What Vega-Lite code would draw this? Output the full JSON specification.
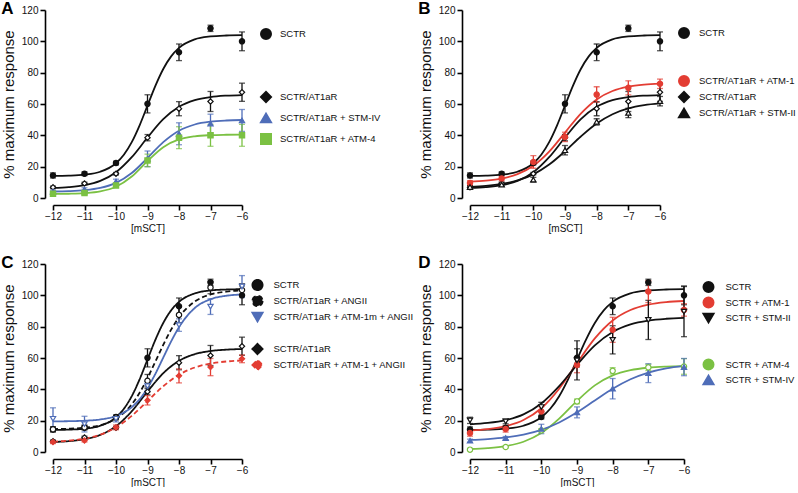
{
"$schema": "https://vega.github.io/schema/vega-lite/v6.json",
"background": "white",
"padding": {"left": 1, "top": 0, "right": 0, "bottom": 0},
"bounds": "flush",
"columns": 2,
"spacing": {"row": 66, "column": 228},
"resolve": {
 "scale": {"color": "independent", "stroke": "independent", "fill": "independent", "shape": "independent", "strokeDash": "independent", "x": "independent", "y": "independent"},
 "legend": {"color": "independent", "stroke": "independent", "fill": "independent", "shape": "independent", "strokeDash": "independent"}
},
"datasets": {
"curves": [
{"p":"ABCD","s":"SCTR","x":-12,"y":14.09},{"p":"ABCD","s":"SCTR","x":-11.5,"y":14.28},{"p":"ABCD","s":"SCTR","x":-11,"y":14.89},{"p":"ABCD","s":"SCTR","x":-10.5,"y":16.76},{"p":"ABCD","s":"SCTR","x":-10,"y":22.18},{"p":"ABCD","s":"SCTR","x":-9.75,"y":27.59},{"p":"ABCD","s":"SCTR","x":-9.5,"y":35.63},{"p":"ABCD","s":"SCTR","x":-9.25,"y":46.4},{"p":"ABCD","s":"SCTR","x":-9,"y":59},{"p":"ABCD","s":"SCTR","x":-8.75,"y":71.6},{"p":"ABCD","s":"SCTR","x":-8.5,"y":82.37},{"p":"ABCD","s":"SCTR","x":-8.25,"y":90.41},{"p":"ABCD","s":"SCTR","x":-8,"y":95.82},{"p":"ABCD","s":"SCTR","x":-7.5,"y":101.24},{"p":"ABCD","s":"SCTR","x":-7,"y":103.11},{"p":"ABCD","s":"SCTR","x":-6.5,"y":103.72},{"p":"ABCD","s":"SCTR","x":-6,"y":103.91},
{"p":"ABC","s":"SCTR/AT1aR","x":-12,"y":6.4},{"p":"ABC","s":"SCTR/AT1aR","x":-11.5,"y":6.94},{"p":"ABC","s":"SCTR/AT1aR","x":-11,"y":8.17},{"p":"ABC","s":"SCTR/AT1aR","x":-10.5,"y":10.91},{"p":"ABC","s":"SCTR/AT1aR","x":-10,"y":16.47},{"p":"ABC","s":"SCTR/AT1aR","x":-9.5,"y":26.03},{"p":"ABC","s":"SCTR/AT1aR","x":-9,"y":38.59},{"p":"ABC","s":"SCTR/AT1aR","x":-8.5,"y":50.29},{"p":"ABC","s":"SCTR/AT1aR","x":-8,"y":58.19},{"p":"ABC","s":"SCTR/AT1aR","x":-7.5,"y":62.44},{"p":"ABC","s":"SCTR/AT1aR","x":-7,"y":64.45},{"p":"ABC","s":"SCTR/AT1aR","x":-6.5,"y":65.33},{"p":"ABC","s":"SCTR/AT1aR","x":-6,"y":65.72},
{"p":"A","s":"SCTR/AT1aR + STM-IV","x":-12,"y":4.16},{"p":"A","s":"SCTR/AT1aR + STM-IV","x":-11.5,"y":4.4},{"p":"A","s":"SCTR/AT1aR + STM-IV","x":-11,"y":4.99},{"p":"A","s":"SCTR/AT1aR + STM-IV","x":-10.5,"y":6.42},{"p":"A","s":"SCTR/AT1aR + STM-IV","x":-10,"y":9.62},{"p":"A","s":"SCTR/AT1aR + STM-IV","x":-9.5,"y":15.92},{"p":"A","s":"SCTR/AT1aR + STM-IV","x":-9,"y":25.52},{"p":"A","s":"SCTR/AT1aR + STM-IV","x":-8.5,"y":35.66},{"p":"A","s":"SCTR/AT1aR + STM-IV","x":-8,"y":42.97},{"p":"A","s":"SCTR/AT1aR + STM-IV","x":-7.5,"y":46.92},{"p":"A","s":"SCTR/AT1aR + STM-IV","x":-7,"y":48.72},{"p":"A","s":"SCTR/AT1aR + STM-IV","x":-6.5,"y":49.48},{"p":"A","s":"SCTR/AT1aR + STM-IV","x":-6,"y":49.79},
{"p":"A","s":"SCTR/AT1aR + ATM-4","x":-12,"y":2.57},{"p":"A","s":"SCTR/AT1aR + ATM-4","x":-11.5,"y":2.7},{"p":"A","s":"SCTR/AT1aR + ATM-4","x":-11,"y":3.09},{"p":"A","s":"SCTR/AT1aR + ATM-4","x":-10.5,"y":4.2},{"p":"A","s":"SCTR/AT1aR + ATM-4","x":-10,"y":7.16},{"p":"A","s":"SCTR/AT1aR + ATM-4","x":-9.5,"y":13.68},{"p":"A","s":"SCTR/AT1aR + ATM-4","x":-9,"y":23.57},{"p":"A","s":"SCTR/AT1aR + ATM-4","x":-8.5,"y":32.44},{"p":"A","s":"SCTR/AT1aR + ATM-4","x":-8,"y":37.36},{"p":"A","s":"SCTR/AT1aR + ATM-4","x":-7.5,"y":39.39},{"p":"A","s":"SCTR/AT1aR + ATM-4","x":-7,"y":40.12},{"p":"A","s":"SCTR/AT1aR + ATM-4","x":-6.5,"y":40.37},{"p":"A","s":"SCTR/AT1aR + ATM-4","x":-6,"y":40.46},
{"p":"B","s":"SCTR/AT1aR + ATM-1","x":-12,"y":10.5},{"p":"B","s":"SCTR/AT1aR + ATM-1","x":-11.5,"y":11.11},{"p":"B","s":"SCTR/AT1aR + ATM-1","x":-11,"y":12.43},{"p":"B","s":"SCTR/AT1aR + ATM-1","x":-10.5,"y":15.19},{"p":"B","s":"SCTR/AT1aR + ATM-1","x":-10,"y":20.56},{"p":"B","s":"SCTR/AT1aR + ATM-1","x":-9.5,"y":29.6},{"p":"B","s":"SCTR/AT1aR + ATM-1","x":-9,"y":41.75},{"p":"B","s":"SCTR/AT1aR + ATM-1","x":-8.5,"y":53.9},{"p":"B","s":"SCTR/AT1aR + ATM-1","x":-8,"y":62.94},{"p":"B","s":"SCTR/AT1aR + ATM-1","x":-7.5,"y":68.31},{"p":"B","s":"SCTR/AT1aR + ATM-1","x":-7,"y":71.07},{"p":"B","s":"SCTR/AT1aR + ATM-1","x":-6.5,"y":72.39},{"p":"B","s":"SCTR/AT1aR + ATM-1","x":-6,"y":73.0},
{"p":"B","s":"SCTR/AT1aR + STM-II","x":-12,"y":7.14},{"p":"B","s":"SCTR/AT1aR + STM-II","x":-11.5,"y":7.75},{"p":"B","s":"SCTR/AT1aR + STM-II","x":-11,"y":8.95},{"p":"B","s":"SCTR/AT1aR + STM-II","x":-10.5,"y":11.18},{"p":"B","s":"SCTR/AT1aR + STM-II","x":-10,"y":15.1},{"p":"B","s":"SCTR/AT1aR + STM-II","x":-9.5,"y":21.35},{"p":"B","s":"SCTR/AT1aR + STM-II","x":-9,"y":29.85},{"p":"B","s":"SCTR/AT1aR + STM-II","x":-8.5,"y":39.26},{"p":"B","s":"SCTR/AT1aR + STM-II","x":-8,"y":47.53},{"p":"B","s":"SCTR/AT1aR + STM-II","x":-7.5,"y":53.49},{"p":"B","s":"SCTR/AT1aR + STM-II","x":-7,"y":57.17},{"p":"B","s":"SCTR/AT1aR + STM-II","x":-6.5,"y":59.24},{"p":"B","s":"SCTR/AT1aR + STM-II","x":-6,"y":60.34},
{"p":"C","s":"SCTR/AT1aR + ANGII","x":-12,"y":14.64},{"p":"C","s":"SCTR/AT1aR + ANGII","x":-11.5,"y":14.88},{"p":"C","s":"SCTR/AT1aR + ANGII","x":-11,"y":15.52},{"p":"C","s":"SCTR/AT1aR + ANGII","x":-10.5,"y":17.15},{"p":"C","s":"SCTR/AT1aR + ANGII","x":-10,"y":21.22},{"p":"C","s":"SCTR/AT1aR + ANGII","x":-9.75,"y":24.96},{"p":"C","s":"SCTR/AT1aR + ANGII","x":-9.5,"y":30.39},{"p":"C","s":"SCTR/AT1aR + ANGII","x":-9.25,"y":37.79},{"p":"C","s":"SCTR/AT1aR + ANGII","x":-9,"y":47.1},{"p":"C","s":"SCTR/AT1aR + ANGII","x":-8.75,"y":57.69},{"p":"C","s":"SCTR/AT1aR + ANGII","x":-8.5,"y":68.43},{"p":"C","s":"SCTR/AT1aR + ANGII","x":-8.25,"y":78.13},{"p":"C","s":"SCTR/AT1aR + ANGII","x":-8,"y":86.03},{"p":"C","s":"SCTR/AT1aR + ANGII","x":-7.5,"y":96.02},{"p":"C","s":"SCTR/AT1aR + ANGII","x":-7,"y":100.53},{"p":"C","s":"SCTR/AT1aR + ANGII","x":-6.5,"y":102.36},{"p":"C","s":"SCTR/AT1aR + ANGII","x":-6,"y":103.07},
{"p":"C","s":"SCTR/AT1aR + ATM-1m + ANGII","x":-12,"y":19.56},{"p":"C","s":"SCTR/AT1aR + ATM-1m + ANGII","x":-11.5,"y":19.66},{"p":"C","s":"SCTR/AT1aR + ATM-1m + ANGII","x":-11,"y":19.96},{"p":"C","s":"SCTR/AT1aR + ATM-1m + ANGII","x":-10.5,"y":20.77},{"p":"C","s":"SCTR/AT1aR + ATM-1m + ANGII","x":-10,"y":22.98},{"p":"C","s":"SCTR/AT1aR + ATM-1m + ANGII","x":-9.75,"y":25.18},{"p":"C","s":"SCTR/AT1aR + ATM-1m + ANGII","x":-9.5,"y":28.61},{"p":"C","s":"SCTR/AT1aR + ATM-1m + ANGII","x":-9.25,"y":33.72},{"p":"C","s":"SCTR/AT1aR + ATM-1m + ANGII","x":-9,"y":40.85},{"p":"C","s":"SCTR/AT1aR + ATM-1m + ANGII","x":-8.75,"y":49.92},{"p":"C","s":"SCTR/AT1aR + ATM-1m + ANGII","x":-8.5,"y":60.25},{"p":"C","s":"SCTR/AT1aR + ATM-1m + ANGII","x":-8.25,"y":70.58},{"p":"C","s":"SCTR/AT1aR + ATM-1m + ANGII","x":-8,"y":79.66},{"p":"C","s":"SCTR/AT1aR + ATM-1m + ANGII","x":-7.5,"y":91.89},{"p":"C","s":"SCTR/AT1aR + ATM-1m + ANGII","x":-7,"y":97.51},{"p":"C","s":"SCTR/AT1aR + ATM-1m + ANGII","x":-6.5,"y":99.73},{"p":"C","s":"SCTR/AT1aR + ATM-1m + ANGII","x":-6,"y":100.54},
{"p":"C","s":"SCTR/AT1aR + ATM-1 + ANGII","x":-12,"y":6.59},{"p":"C","s":"SCTR/AT1aR + ATM-1 + ANGII","x":-11.5,"y":7.23},{"p":"C","s":"SCTR/AT1aR + ATM-1 + ANGII","x":-11,"y":8.53},{"p":"C","s":"SCTR/AT1aR + ATM-1 + ANGII","x":-10.5,"y":11.08},{"p":"C","s":"SCTR/AT1aR + ATM-1 + ANGII","x":-10,"y":15.7},{"p":"C","s":"SCTR/AT1aR + ATM-1 + ANGII","x":-9.5,"y":23.03},{"p":"C","s":"SCTR/AT1aR + ATM-1 + ANGII","x":-9,"y":32.5},{"p":"C","s":"SCTR/AT1aR + ATM-1 + ANGII","x":-8.5,"y":41.98},{"p":"C","s":"SCTR/AT1aR + ATM-1 + ANGII","x":-8,"y":49.3},{"p":"C","s":"SCTR/AT1aR + ATM-1 + ANGII","x":-7.5,"y":53.92},{"p":"C","s":"SCTR/AT1aR + ATM-1 + ANGII","x":-7,"y":56.47},{"p":"C","s":"SCTR/AT1aR + ATM-1 + ANGII","x":-6.5,"y":57.77},{"p":"C","s":"SCTR/AT1aR + ATM-1 + ANGII","x":-6,"y":58.41},
{"p":"D","s":"SCTR + ATM-1","x":-12,"y":13.72},{"p":"D","s":"SCTR + ATM-1","x":-11.5,"y":14.59},{"p":"D","s":"SCTR + ATM-1","x":-11,"y":16.48},{"p":"D","s":"SCTR + ATM-1","x":-10.5,"y":20.4},{"p":"D","s":"SCTR + ATM-1","x":-10,"y":27.94},{"p":"D","s":"SCTR + ATM-1","x":-9.5,"y":40.41},{"p":"D","s":"SCTR + ATM-1","x":-9,"y":56.69},{"p":"D","s":"SCTR + ATM-1","x":-8.5,"y":72.49},{"p":"D","s":"SCTR + ATM-1","x":-8,"y":83.94},{"p":"D","s":"SCTR + ATM-1","x":-7.5,"y":90.62},{"p":"D","s":"SCTR + ATM-1","x":-7,"y":94.03},{"p":"D","s":"SCTR + ATM-1","x":-6.5,"y":95.65},{"p":"D","s":"SCTR + ATM-1","x":-6,"y":96.39},
{"p":"D","s":"SCTR + STM-II","x":-12,"y":17.69},{"p":"D","s":"SCTR + STM-II","x":-11.5,"y":18.53},{"p":"D","s":"SCTR + STM-II","x":-11,"y":20.33},{"p":"D","s":"SCTR + STM-II","x":-10.5,"y":24.03},{"p":"D","s":"SCTR + STM-II","x":-10,"y":30.98},{"p":"D","s":"SCTR + STM-II","x":-9.5,"y":42.02},{"p":"D","s":"SCTR + STM-II","x":-9,"y":55.65},{"p":"D","s":"SCTR + STM-II","x":-8.5,"y":68.08},{"p":"D","s":"SCTR + STM-II","x":-8,"y":76.65},{"p":"D","s":"SCTR + STM-II","x":-7.5,"y":81.49},{"p":"D","s":"SCTR + STM-II","x":-7,"y":83.91},{"p":"D","s":"SCTR + STM-II","x":-6.5,"y":85.05},{"p":"D","s":"SCTR + STM-II","x":-6,"y":85.57},
{"p":"D","s":"SCTR + ATM-4","x":-12,"y":1.91},{"p":"D","s":"SCTR + ATM-4","x":-11.5,"y":2.47},{"p":"D","s":"SCTR + ATM-4","x":-11,"y":3.75},{"p":"D","s":"SCTR + ATM-4","x":-10.5,"y":6.54},{"p":"D","s":"SCTR + ATM-4","x":-10,"y":12.09},{"p":"D","s":"SCTR + ATM-4","x":-9.5,"y":21.26},{"p":"D","s":"SCTR + ATM-4","x":-9,"y":32.6},{"p":"D","s":"SCTR + ATM-4","x":-8.5,"y":42.53},{"p":"D","s":"SCTR + ATM-4","x":-8,"y":48.92},{"p":"D","s":"SCTR + ATM-4","x":-7.5,"y":52.26},{"p":"D","s":"SCTR + ATM-4","x":-7,"y":53.81},{"p":"D","s":"SCTR + ATM-4","x":-6.5,"y":54.49},{"p":"D","s":"SCTR + ATM-4","x":-6,"y":54.78},
{"p":"D","s":"SCTR + STM-IV","x":-12,"y":7.68},{"p":"D","s":"SCTR + STM-IV","x":-11.5,"y":8.26},{"p":"D","s":"SCTR + STM-IV","x":-11,"y":9.3},{"p":"D","s":"SCTR + STM-IV","x":-10.5,"y":11.11},{"p":"D","s":"SCTR + STM-IV","x":-10,"y":14.15},{"p":"D","s":"SCTR + STM-IV","x":-9.5,"y":18.85},{"p":"D","s":"SCTR + STM-IV","x":-9,"y":25.33},{"p":"D","s":"SCTR + STM-IV","x":-8.5,"y":32.93},{"p":"D","s":"SCTR + STM-IV","x":-8,"y":40.37},{"p":"D","s":"SCTR + STM-IV","x":-7.5,"y":46.44},{"p":"D","s":"SCTR + STM-IV","x":-7,"y":50.72},{"p":"D","s":"SCTR + STM-IV","x":-6.5,"y":53.42},{"p":"D","s":"SCTR + STM-IV","x":-6,"y":55.01}
],
"pts": [
{"p":"ABCD","s":"SCTR","x":-12,"y":14.4,"e":1.6},{"p":"ABCD","s":"SCTR","x":-11,"y":15.5,"e":1.2},{"p":"ABCD","s":"SCTR","x":-10,"y":22.3,"e":1.2},{"p":"ABCD","s":"SCTR","x":-9,"y":60.1,"e":5.8},{"p":"ABCD","s":"SCTR","x":-8,"y":93,"e":5.3},{"p":"ABCD","s":"SCTR","x":-7,"y":108.3,"e":2},{"p":"ABCD","s":"SCTR","x":-6,"y":100,"e":6},
{"p":"ABC","s":"SCTR/AT1aR","x":-12,"y":6.8,"e":0.8},{"p":"ABC","s":"SCTR/AT1aR","x":-11,"y":9.3,"e":0.8},{"p":"ABC","s":"SCTR/AT1aR","x":-10,"y":15.5,"e":0.8},{"p":"ABC","s":"SCTR/AT1aR","x":-9,"y":38.5,"e":2},{"p":"ABC","s":"SCTR/AT1aR","x":-8,"y":57,"e":4.5},{"p":"ABC","s":"SCTR/AT1aR","x":-7,"y":61.6,"e":6.4},{"p":"ABC","s":"SCTR/AT1aR","x":-6,"y":67.5,"e":5.8},
{"p":"A","s":"SCTR/AT1aR + STM-IV","x":-12,"y":4,"e":1},{"p":"A","s":"SCTR/AT1aR + STM-IV","x":-11,"y":5.5,"e":1},{"p":"A","s":"SCTR/AT1aR + STM-IV","x":-10,"y":10.5,"e":1.5},{"p":"A","s":"SCTR/AT1aR + STM-IV","x":-9,"y":25,"e":5},{"p":"A","s":"SCTR/AT1aR + STM-IV","x":-8,"y":41,"e":7},{"p":"A","s":"SCTR/AT1aR + STM-IV","x":-7,"y":47.5,"e":6},{"p":"A","s":"SCTR/AT1aR + STM-IV","x":-6,"y":49.5,"e":7},
{"p":"A","s":"SCTR/AT1aR + ATM-4","x":-12,"y":2.7,"e":0.8},{"p":"A","s":"SCTR/AT1aR + ATM-4","x":-11,"y":3.2,"e":0.8},{"p":"A","s":"SCTR/AT1aR + ATM-4","x":-10,"y":8,"e":1},{"p":"A","s":"SCTR/AT1aR + ATM-4","x":-9,"y":24,"e":4},{"p":"A","s":"SCTR/AT1aR + ATM-4","x":-8,"y":38.5,"e":7},{"p":"A","s":"SCTR/AT1aR + ATM-4","x":-7,"y":40,"e":7},{"p":"A","s":"SCTR/AT1aR + ATM-4","x":-6,"y":40,"e":7},
{"p":"B","s":"SCTR/AT1aR + ATM-1","x":-12,"y":9.6,"e":1.5},{"p":"B","s":"SCTR/AT1aR + ATM-1","x":-11,"y":12.4,"e":1.5},{"p":"B","s":"SCTR/AT1aR + ATM-1","x":-10,"y":23,"e":4},{"p":"B","s":"SCTR/AT1aR + ATM-1","x":-9,"y":39,"e":3},{"p":"B","s":"SCTR/AT1aR + ATM-1","x":-8,"y":66,"e":5},{"p":"B","s":"SCTR/AT1aR + ATM-1","x":-7,"y":70.3,"e":4.5},{"p":"B","s":"SCTR/AT1aR + ATM-1","x":-6,"y":72.9,"e":3},
{"p":"B","s":"SCTR/AT1aR + STM-II","x":-12,"y":7,"e":1},{"p":"B","s":"SCTR/AT1aR + STM-II","x":-11,"y":8.5,"e":1},{"p":"B","s":"SCTR/AT1aR + STM-II","x":-10,"y":11.7,"e":1.5},{"p":"B","s":"SCTR/AT1aR + STM-II","x":-9,"y":30.5,"e":3},{"p":"B","s":"SCTR/AT1aR + STM-II","x":-8,"y":48.6,"e":2},{"p":"B","s":"SCTR/AT1aR + STM-II","x":-7,"y":54.3,"e":3},{"p":"B","s":"SCTR/AT1aR + STM-II","x":-6,"y":61.8,"e":3},
{"p":"C","s":"SCTR/AT1aR + ANGII","x":-12,"y":14.5,"e":1.5},{"p":"C","s":"SCTR/AT1aR + ANGII","x":-11,"y":15.7,"e":1.5},{"p":"C","s":"SCTR/AT1aR + ANGII","x":-10,"y":22,"e":1.5},{"p":"C","s":"SCTR/AT1aR + ANGII","x":-9,"y":45.5,"e":4},{"p":"C","s":"SCTR/AT1aR + ANGII","x":-8,"y":87.5,"e":5},{"p":"C","s":"SCTR/AT1aR + ANGII","x":-7,"y":105,"e":4},{"p":"C","s":"SCTR/AT1aR + ANGII","x":-6,"y":103.4,"e":4},
{"p":"C","s":"SCTR/AT1aR + ATM-1m + ANGII","x":-12,"y":21.2,"e":7},{"p":"C","s":"SCTR/AT1aR + ATM-1m + ANGII","x":-11,"y":17.8,"e":5},{"p":"C","s":"SCTR/AT1aR + ATM-1m + ANGII","x":-10,"y":21.2,"e":2},{"p":"C","s":"SCTR/AT1aR + ATM-1m + ANGII","x":-9,"y":42,"e":3},{"p":"C","s":"SCTR/AT1aR + ATM-1m + ANGII","x":-8,"y":81,"e":4},{"p":"C","s":"SCTR/AT1aR + ATM-1m + ANGII","x":-7,"y":92.8,"e":5},{"p":"C","s":"SCTR/AT1aR + ATM-1m + ANGII","x":-6,"y":105.6,"e":7},
{"p":"C","s":"SCTR/AT1aR + ATM-1 + ANGII","x":-12,"y":6.4,"e":1},{"p":"C","s":"SCTR/AT1aR + ATM-1 + ANGII","x":-11,"y":7.4,"e":1},{"p":"C","s":"SCTR/AT1aR + ATM-1 + ANGII","x":-10,"y":15.7,"e":1.5},{"p":"C","s":"SCTR/AT1aR + ATM-1 + ANGII","x":-9,"y":33,"e":3},{"p":"C","s":"SCTR/AT1aR + ATM-1 + ANGII","x":-8,"y":48.6,"e":4.5},{"p":"C","s":"SCTR/AT1aR + ATM-1 + ANGII","x":-7,"y":54.2,"e":5.5},{"p":"C","s":"SCTR/AT1aR + ATM-1 + ANGII","x":-6,"y":59.5,"e":2.5},
{"p":"D","s":"SCTR + ATM-1","x":-12,"y":12.1,"e":2},{"p":"D","s":"SCTR + ATM-1","x":-11,"y":14.7,"e":2},{"p":"D","s":"SCTR + ATM-1","x":-10,"y":25.9,"e":3},{"p":"D","s":"SCTR + ATM-1","x":-9,"y":55.6,"e":5},{"p":"D","s":"SCTR + ATM-1","x":-8,"y":78,"e":8},{"p":"D","s":"SCTR + ATM-1","x":-7,"y":102.4,"e":7},{"p":"D","s":"SCTR + ATM-1","x":-6,"y":90.7,"e":4},
{"p":"D","s":"SCTR + STM-II","x":-12,"y":20.2,"e":2},{"p":"D","s":"SCTR + STM-II","x":-11,"y":19.5,"e":1.5},{"p":"D","s":"SCTR + STM-II","x":-10,"y":28.7,"e":3},{"p":"D","s":"SCTR + STM-II","x":-9,"y":58.5,"e":12.5},{"p":"D","s":"SCTR + STM-II","x":-8,"y":71.6,"e":9},{"p":"D","s":"SCTR + STM-II","x":-7,"y":84.3,"e":12.5},{"p":"D","s":"SCTR + STM-II","x":-6,"y":89.6,"e":16},
{"p":"D","s":"SCTR + ATM-4","x":-12,"y":1.5,"e":0.5},{"p":"D","s":"SCTR + ATM-4","x":-11,"y":3.2,"e":0.5},{"p":"D","s":"SCTR + ATM-4","x":-10,"y":13.8,"e":1},{"p":"D","s":"SCTR + ATM-4","x":-9,"y":32.3,"e":1.5},{"p":"D","s":"SCTR + ATM-4","x":-8,"y":51.8,"e":2},{"p":"D","s":"SCTR + ATM-4","x":-7,"y":54,"e":2},{"p":"D","s":"SCTR + ATM-4","x":-6,"y":54.6,"e":5},
{"p":"D","s":"SCTR + STM-IV","x":-12,"y":7.2,"e":1},{"p":"D","s":"SCTR + STM-IV","x":-11,"y":8.9,"e":1},{"p":"D","s":"SCTR + STM-IV","x":-10,"y":14.7,"e":3},{"p":"D","s":"SCTR + STM-IV","x":-9,"y":25.3,"e":3.5},{"p":"D","s":"SCTR + STM-IV","x":-8,"y":40.4,"e":6.5},{"p":"D","s":"SCTR + STM-IV","x":-7,"y":50.3,"e":6},{"p":"D","s":"SCTR + STM-IV","x":-6,"y":54.2,"e":5.5}
]
},
"concat": [
{
"width": 189, "height": 188,
"title": {"text": "A"},
"encoding": {
 "x": {"field": "x", "type": "quantitative", "scale": {"domain": [-12, -6], "nice": false, "zero": false}, "axis": {"values": [-12,-11,-10,-9,-8,-7,-6], "title": "[mSCT]", "labelFlush": false}},
 "y": {"field": "y", "type": "quantitative", "scale": {"domain": [0, 120], "nice": false}, "axis": {"values": [0,20,40,60,80,100,120], "title": "% maximum response"}}
},
"layer": [
 {"data": {"name": "pts"}, "transform": [{"filter": "datum.x > 0"}], "mark": {"type": "point", "opacity": 1},
  "encoding": {"stroke": {"field": "s", "type": "nominal", "scale": {"domain": ["SCTR"," ","  ","SCTR/AT1aR","SCTR/AT1aR + STM-IV","SCTR/AT1aR + ATM-4"], "range": ["#111111","transparent","transparent","#111111","#4f6db8","#7bc143"]},
    "legend": {"title": null, "orient": "none", "legendX": 207, "legendY": 18, "rowPadding": 3, "labelOffset": 8}}}},
 {"data": {"name": "curves"}, "transform": [{"filter": "indexof(datum.p,'A')>=0"}], "mark": {"type": "line", "interpolate": "monotone", "strokeWidth": 1.8},
  "encoding": {"stroke": {"field": "s", "type": "nominal", "scale": {"domain": ["SCTR"," ","  ","SCTR/AT1aR","SCTR/AT1aR + STM-IV","SCTR/AT1aR + ATM-4"], "range": ["#111111","transparent","transparent","#111111","#4f6db8","#7bc143"]}}}},
 {"data": {"name": "pts"}, "transform": [{"filter": "indexof(datum.p,'A')>=0"}], "mark": {"type": "errorbar", "ticks": {"size": 6}, "thickness": 1.3},
  "encoding": {"yError": {"field": "e"}, "color": {"field": "s", "type": "nominal", "scale": {"domain": ["SCTR"," ","  ","SCTR/AT1aR","SCTR/AT1aR + STM-IV","SCTR/AT1aR + ATM-4"], "range": ["#111111","transparent","transparent","#111111","#4f6db8","#7bc143"]}, "legend": null}}},
 {"data": {"name": "pts"}, "transform": [{"filter": "indexof(datum.p,'A')>=0"}], "mark": {"type": "point", "filled": true, "size": 28, "strokeWidth": 1.2, "opacity": 1},
  "encoding": {
   "shape": {"field": "s", "type": "nominal", "scale": {"domain": ["SCTR"," ","  ","SCTR/AT1aR","SCTR/AT1aR + STM-IV","SCTR/AT1aR + ATM-4"], "range": ["circle","circle","circle","diamond","triangle-up","square"]}, "legend": null},
   "fill": {"field": "s", "type": "nominal", "scale": {"domain": ["SCTR"," ","  ","SCTR/AT1aR","SCTR/AT1aR + STM-IV","SCTR/AT1aR + ATM-4"], "range": ["#111111","transparent","transparent","#ffffff","#4f6db8","#7bc143"]}, "legend": null},
   "stroke": {"field": "s", "type": "nominal", "scale": {"domain": ["SCTR"," ","  ","SCTR/AT1aR","SCTR/AT1aR + STM-IV","SCTR/AT1aR + ATM-4"], "range": ["#111111","transparent","transparent","#111111","#4f6db8","#7bc143"]}}
  }}
]
},
{
"width": 190, "height": 188,
"title": {"text": "B"},
"encoding": {
 "x": {"field": "x", "type": "quantitative", "scale": {"domain": [-12, -6], "nice": false, "zero": false}, "axis": {"values": [-12,-11,-10,-9,-8,-7,-6], "title": "[mSCT]", "labelFlush": false}},
 "y": {"field": "y", "type": "quantitative", "scale": {"domain": [0, 120], "nice": false}, "axis": {"values": [0,20,40,60,80,100,120], "title": "% maximum response"}}
},
"layer": [
 {"data": {"name": "pts"}, "transform": [{"filter": "datum.x > 0"}], "mark": {"type": "point", "opacity": 1},
  "encoding": {"stroke": {"field": "s", "type": "nominal", "scale": {"domain": ["SCTR"," ","  ","SCTR/AT1aR + ATM-1","SCTR/AT1aR","SCTR/AT1aR + STM-II"], "range": ["#111111","transparent","transparent","#e33d33","#111111","#111111"]},
    "legend": {"title": null, "orient": "none", "legendX": 208, "legendY": 17, "rowPadding": -2, "labelOffset": 9, "labelLimit": 100}}}},
 {"data": {"name": "curves"}, "transform": [{"filter": "indexof(datum.p,'B')>=0"}], "mark": {"type": "line", "interpolate": "monotone", "strokeWidth": 1.8},
  "encoding": {"stroke": {"field": "s", "type": "nominal", "scale": {"domain": ["SCTR"," ","  ","SCTR/AT1aR + ATM-1","SCTR/AT1aR","SCTR/AT1aR + STM-II"], "range": ["#111111","transparent","transparent","#e33d33","#111111","#111111"]}}}},
 {"data": {"name": "pts"}, "transform": [{"filter": "indexof(datum.p,'B')>=0"}], "mark": {"type": "errorbar", "ticks": {"size": 6}, "thickness": 1.3},
  "encoding": {"yError": {"field": "e"}, "color": {"field": "s", "type": "nominal", "scale": {"domain": ["SCTR"," ","  ","SCTR/AT1aR + ATM-1","SCTR/AT1aR","SCTR/AT1aR + STM-II"], "range": ["#111111","transparent","transparent","#e33d33","#111111","#111111"]}, "legend": null}}},
 {"data": {"name": "pts"}, "transform": [{"filter": "indexof(datum.p,'B')>=0"}], "mark": {"type": "point", "filled": true, "size": 28, "strokeWidth": 1.2, "opacity": 1},
  "encoding": {
   "shape": {"field": "s", "type": "nominal", "scale": {"domain": ["SCTR"," ","  ","SCTR/AT1aR + ATM-1","SCTR/AT1aR","SCTR/AT1aR + STM-II"], "range": ["circle","circle","circle","circle","diamond","triangle-up"]}, "legend": null},
   "fill": {"field": "s", "type": "nominal", "scale": {"domain": ["SCTR"," ","  ","SCTR/AT1aR + ATM-1","SCTR/AT1aR","SCTR/AT1aR + STM-II"], "range": ["#111111","transparent","transparent","#e33d33","#ffffff","#ffffff"]}, "legend": null},
   "stroke": {"field": "s", "type": "nominal", "scale": {"domain": ["SCTR"," ","  ","SCTR/AT1aR + ATM-1","SCTR/AT1aR","SCTR/AT1aR + STM-II"], "range": ["#111111","transparent","transparent","#e33d33","#111111","#111111"]}}
  }}
]
},
{
"width": 189, "height": 188,
"title": {"text": "C"},
"encoding": {
 "x": {"field": "x", "type": "quantitative", "scale": {"domain": [-12, -6], "nice": false, "zero": false}, "axis": {"values": [-12,-11,-10,-9,-8,-7,-6], "title": "[mSCT]", "labelFlush": false}},
 "y": {"field": "y", "type": "quantitative", "scale": {"domain": [0, 120], "nice": false}, "axis": {"values": [0,20,40,60,80,100,120], "title": "% maximum response"}}
},
"layer": [
 {"data": {"name": "pts"}, "transform": [{"filter": "datum.x > 0"}], "mark": {"type": "point", "opacity": 1},
  "encoding": {"stroke": {"field": "s", "type": "nominal", "scale": {"domain": ["SCTR","SCTR/AT1aR + ANGII","SCTR/AT1aR + ATM-1m + ANGII"," ","SCTR/AT1aR","SCTR/AT1aR + ATM-1 + ANGII"], "range": ["#111111","#111111","#4f6db8","transparent","#111111","#e33d33"]},
    "legend": {"title": null, "orient": "none", "legendX": 198.5, "legendY": 15, "rowPadding": -2, "labelOffset": 10, "labelLimit": 200}}}},
 {"data": {"name": "curves"}, "transform": [{"filter": "indexof(datum.p,'C')>=0"}], "mark": {"type": "line", "interpolate": "monotone", "strokeWidth": 1.8},
  "encoding": {
   "stroke": {"field": "s", "type": "nominal", "scale": {"domain": ["SCTR","SCTR/AT1aR + ANGII","SCTR/AT1aR + ATM-1m + ANGII"," ","SCTR/AT1aR","SCTR/AT1aR + ATM-1 + ANGII"], "range": ["#111111","#111111","#4f6db8","transparent","#111111","#e33d33"]}},
   "strokeDash": {"field": "s", "type": "nominal", "scale": {"domain": ["SCTR","SCTR/AT1aR + ANGII","SCTR/AT1aR + ATM-1m + ANGII"," ","SCTR/AT1aR","SCTR/AT1aR + ATM-1 + ANGII"], "range": [[1,0],[5,3],[1,0],[1,0],[1,0],[5,3]]}, "legend": null}}},
 {"data": {"name": "pts"}, "transform": [{"filter": "indexof(datum.p,'C')>=0"}], "mark": {"type": "errorbar", "ticks": {"size": 6}, "thickness": 1.3},
  "encoding": {"yError": {"field": "e"}, "color": {"field": "s", "type": "nominal", "scale": {"domain": ["SCTR","SCTR/AT1aR + ANGII","SCTR/AT1aR + ATM-1m + ANGII"," ","SCTR/AT1aR","SCTR/AT1aR + ATM-1 + ANGII"], "range": ["#111111","#111111","#4f6db8","transparent","#111111","#e33d33"]}, "legend": null}}},
 {"data": {"name": "pts"}, "transform": [{"filter": "indexof(datum.p,'C')>=0"}], "mark": {"type": "point", "filled": true, "size": 28, "strokeWidth": 1.2, "opacity": 1},
  "encoding": {
   "shape": {"field": "s", "type": "nominal", "scale": {"domain": ["SCTR","SCTR/AT1aR + ANGII","SCTR/AT1aR + ATM-1m + ANGII"," ","SCTR/AT1aR","SCTR/AT1aR + ATM-1 + ANGII"], "range": ["circle","circle","triangle-down","circle","diamond","diamond"]}, "legend": null},
   "fill": {"field": "s", "type": "nominal", "scale": {"domain": ["SCTR","SCTR/AT1aR + ANGII","SCTR/AT1aR + ATM-1m + ANGII"," ","SCTR/AT1aR","SCTR/AT1aR + ATM-1 + ANGII"], "range": ["#111111","#ffffff","#ffffff","transparent","#ffffff","#e33d33"]}, "legend": null},
   "stroke": {"field": "s", "type": "nominal", "scale": {"domain": ["SCTR","SCTR/AT1aR + ANGII","SCTR/AT1aR + ATM-1m + ANGII"," ","SCTR/AT1aR","SCTR/AT1aR + ATM-1 + ANGII"], "range": ["#111111","#111111","#4f6db8","transparent","#111111","#e33d33"]}}
  }}
]
},
{
"width": 214, "height": 188,
"title": {"text": "D"},
"encoding": {
 "x": {"field": "x", "type": "quantitative", "scale": {"domain": [-12, -6], "nice": false, "zero": false}, "axis": {"values": [-12,-11,-10,-9,-8,-7,-6], "title": "[mSCT]", "labelFlush": false}},
 "y": {"field": "y", "type": "quantitative", "scale": {"domain": [0, 120], "nice": false}, "axis": {"values": [0,20,40,60,80,100,120], "title": "% maximum response"}}
},
"layer": [
 {"data": {"name": "pts"}, "transform": [{"filter": "datum.x > 0"}], "mark": {"type": "point", "opacity": 1},
  "encoding": {"stroke": {"field": "s", "type": "nominal", "scale": {"domain": ["SCTR","SCTR + ATM-1","SCTR + STM-II"," ","  ","SCTR + ATM-4","SCTR + STM-IV"], "range": ["#111111","#e33d33","#111111","transparent","transparent","#7bc143","#4f6db8"]},
    "legend": {"title": null, "orient": "none", "legendX": 232.5, "legendY": 17, "rowPadding": -2.5, "labelOffset": 11, "labelLimit": 74}}}},
 {"data": {"name": "curves"}, "transform": [{"filter": "indexof(datum.p,'D')>=0"}], "mark": {"type": "line", "interpolate": "monotone", "strokeWidth": 1.8},
  "encoding": {"stroke": {"field": "s", "type": "nominal", "scale": {"domain": ["SCTR","SCTR + ATM-1","SCTR + STM-II"," ","  ","SCTR + ATM-4","SCTR + STM-IV"], "range": ["#111111","#e33d33","#111111","transparent","transparent","#7bc143","#4f6db8"]}}}},
 {"data": {"name": "pts"}, "transform": [{"filter": "indexof(datum.p,'D')>=0"}], "mark": {"type": "errorbar", "ticks": {"size": 6}, "thickness": 1.3},
  "encoding": {"yError": {"field": "e"}, "color": {"field": "s", "type": "nominal", "scale": {"domain": ["SCTR","SCTR + ATM-1","SCTR + STM-II"," ","  ","SCTR + ATM-4","SCTR + STM-IV"], "range": ["#111111","#e33d33","#111111","transparent","transparent","#7bc143","#4f6db8"]}, "legend": null}}},
 {"data": {"name": "pts"}, "transform": [{"filter": "indexof(datum.p,'D')>=0"}], "mark": {"type": "point", "filled": true, "size": 28, "strokeWidth": 1.2, "opacity": 1},
  "encoding": {
   "shape": {"field": "s", "type": "nominal", "scale": {"domain": ["SCTR","SCTR + ATM-1","SCTR + STM-II"," ","  ","SCTR + ATM-4","SCTR + STM-IV"], "range": ["circle","circle","triangle-down","circle","circle","circle","triangle-up"]}, "legend": null},
   "fill": {"field": "s", "type": "nominal", "scale": {"domain": ["SCTR","SCTR + ATM-1","SCTR + STM-II"," ","  ","SCTR + ATM-4","SCTR + STM-IV"], "range": ["#111111","#e33d33","#ffffff","transparent","transparent","#ffffff","#4f6db8"]}, "legend": null},
   "stroke": {"field": "s", "type": "nominal", "scale": {"domain": ["SCTR","SCTR + ATM-1","SCTR + STM-II"," ","  ","SCTR + ATM-4","SCTR + STM-IV"], "range": ["#111111","#e33d33","#111111","transparent","transparent","#7bc143","#4f6db8"]}}
  }}
]
}
],
"config": {
 "font": "Liberation Sans",
 "view": {"stroke": null},
 "axis": {"grid": false, "domainColor": "#000000", "domainWidth": 1.6, "tickColor": "#000000", "tickWidth": 1.6, "tickSize": 5, "labelFont": "Liberation Sans", "labelFontSize": 10, "labelColor": "#111111", "labelPadding": 2, "titleFont": "Liberation Sans", "titleFontWeight": "normal", "titleColor": "#111111"},
 "axisX": {"offset": 7, "titleFontSize": 10, "titlePadding": 2, "labelPadding": 1},
 "axisY": {"offset": 8, "titleFontSize": 15, "titlePadding": 5},
 "legend": {"labelFont": "Liberation Sans", "labelFontSize": 9.5, "labelColor": "#111111", "padding": 0, "symbolSize": 100, "symbolStrokeWidth": 2},
 "title": {"anchor": "start", "frame": "bounds", "fontSize": 17, "fontWeight": "bold", "font": "Liberation Sans", "color": "#000000", "offset": 0, "dy": 17}
}
}
